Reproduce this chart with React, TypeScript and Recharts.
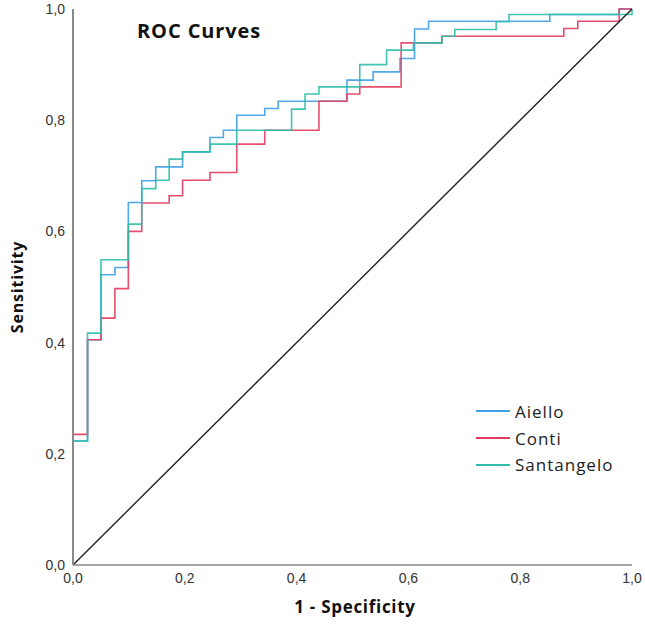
import { LineChart, Line, XAxis, YAxis } from "recharts";

// ROC operating points: [1 - specificity, sensitivity], drawn as steps
const aiello: [number, number][] = [
  [0, 0], [0, 0.223], [0.026, 0.405], [0.05, 0.522], [0.075, 0.535], [0.099, 0.652],
  [0.123, 0.691], [0.148, 0.716], [0.196, 0.743], [0.245, 0.769], [0.269, 0.782],
  [0.293, 0.809], [0.343, 0.821], [0.367, 0.834], [0.49, 0.872], [0.537, 0.887],
  [0.585, 0.911], [0.611, 0.964], [0.636, 0.978], [0.853, 0.99], [0.977, 1], [1, 1],
];

const conti: [number, number][] = [
  [0, 0], [0, 0.235], [0.026, 0.405], [0.05, 0.444], [0.075, 0.497], [0.099, 0.6],
  [0.123, 0.651], [0.172, 0.664], [0.196, 0.692], [0.245, 0.706], [0.293, 0.757],
  [0.343, 0.782], [0.44, 0.834], [0.49, 0.847], [0.513, 0.86], [0.587, 0.939],
  [0.66, 0.951], [0.878, 0.965], [0.903, 0.978], [0.977, 1], [1, 1],
];

const santangelo: [number, number][] = [
  [0, 0], [0, 0.223], [0.026, 0.417], [0.05, 0.549], [0.099, 0.613], [0.123, 0.677],
  [0.148, 0.692], [0.172, 0.73], [0.196, 0.743], [0.245, 0.757], [0.293, 0.782],
  [0.391, 0.82], [0.415, 0.847], [0.44, 0.86], [0.513, 0.9], [0.561, 0.926],
  [0.609, 0.939], [0.66, 0.951], [0.683, 0.963], [0.757, 0.977], [0.78, 0.99], [1, 1],
];

const reference: [number, number][] = [[0, 0], [1, 1]];

const ticks = [0, 0.2, 0.4, 0.6, 0.8, 1];

const series = [
  { name: "Aiello", points: aiello, color: "#3d9fe6" },
  { name: "Conti", points: conti, color: "#e33b5e" },
  { name: "Santangelo", points: santangelo, color: "#2ebdaa" },
];

const toRows = (pts: [number, number][]) => pts.map(([x, y]) => ({ x, y }));
const fmt = (v: number) => v.toFixed(1).replace(".", ",");

const boldFont = "'Open Sans', sans-serif";
const tickStyle = { fontSize: 14, fill: "#333", fontFamily: "'Liberation Sans', Arial, sans-serif" };

export default function App() {
  return (
    <div style={{ position: "absolute", left: 0, top: 0, width: 645, height: 632, background: "#fff" }}>
      <LineChart width={645} height={632} margin={{ top: 9, right: 13, bottom: 37, left: 13 }}>
        <XAxis
          type="number"
          dataKey="x"
          domain={[0, 1]}
          ticks={ticks}
          tickFormatter={fmt}
          tickLine={false}
          axisLine={{ stroke: "#8a8a8a", strokeWidth: 1.5 }}
          tick={tickStyle}
          height={30}
          allowDuplicatedCategory={false}
        />
        <YAxis
          type="number"
          dataKey="y"
          domain={[0, 1]}
          ticks={ticks}
          tickFormatter={fmt}
          tickLine={false}
          axisLine={{ stroke: "#8a8a8a", strokeWidth: 2 }}
          tick={tickStyle}
          width={60}
        />
        {series.map((s) => (
          <Line
            key={s.name}
            name={s.name}
            data={toRows(s.points)}
            dataKey="y"
            type="stepAfter"
            stroke={s.color}
            strokeWidth={1.6}
            strokeOpacity={0.9}
            dot={false}
            activeDot={false}
            isAnimationActive={false}
          />
        ))}
        <Line
          name="reference"
          data={toRows(reference)}
          dataKey="y"
          type="linear"
          stroke="#222"
          strokeWidth={1.4}
          dot={false}
          activeDot={false}
          isAnimationActive={false}
        />
      </LineChart>
      <div
        style={{
          position: "absolute",
          left: 476,
          top: 398,
          fontFamily: boldFont,
          fontSize: 17,
          letterSpacing: 1,
          color: "#222",
        }}
      >
        {series.map((s) => (
          <div key={s.name} style={{ display: "flex", alignItems: "center", height: 26.7 }}>
            <span style={{ display: "inline-block", width: 34, height: 2, background: s.color, marginRight: 5 }} />
            <span>{s.name}</span>
          </div>
        ))}
      </div>
      <div
        style={{
          position: "absolute",
          left: 137,
          top: 17,
          fontFamily: boldFont,
          fontWeight: 700,
          fontSize: 20,
          letterSpacing: 0.9,
          color: "#111",
          whiteSpace: "nowrap",
        }}
      >
        ROC Curves
      </div>
      <div
        style={{
          position: "absolute",
          left: 355,
          top: 606,
          transform: "translate(-50%, -50%)",
          fontFamily: boldFont,
          fontWeight: 700,
          fontSize: 17,
          letterSpacing: 0.7,
          color: "#111",
          whiteSpace: "nowrap",
        }}
      >
        1 - Specificity
      </div>
      <div
        style={{
          position: "absolute",
          left: 17,
          top: 287,
          transform: "translate(-50%, -50%) rotate(-90deg)",
          fontFamily: boldFont,
          fontWeight: 700,
          fontSize: 16,
          letterSpacing: 0.8,
          color: "#111",
          whiteSpace: "nowrap",
        }}
      >
        Sensitivity
      </div>
    </div>
  );
}
